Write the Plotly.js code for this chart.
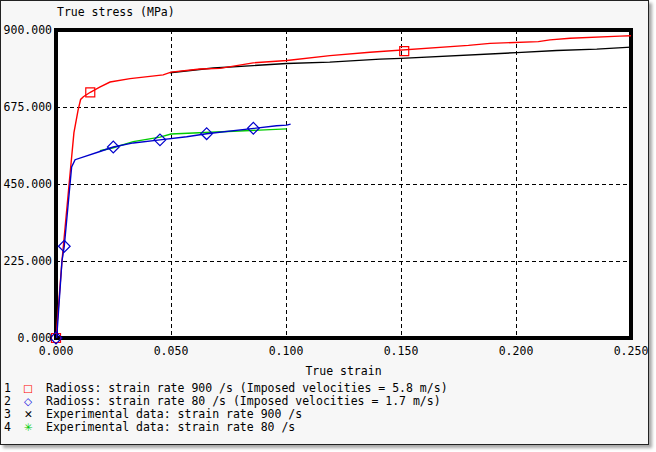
<!DOCTYPE html>
<html><head><meta charset="utf-8">
<script src="https://cdn.plot.ly/plotly-3.0.1.min.js"></script>
<style>
html,body{margin:0;padding:0;background:#ffffff;}
#frame{position:absolute;left:0;top:0;width:647px;height:443px;background:#f7f7f7;border:1px solid #222;box-shadow:3px 3px 3px rgba(0,0,0,0.35);}
#chart{position:absolute;left:0;top:0;width:656px;height:452px;}
</style></head>
<body>
<div id="frame"></div>
<div id="chart"></div>
<script>
// Radioss: strain rate 900 /s
const red_x = [0, 0.0026, 0.0057, 0.0078, 0.0096, 0.0107, 0.0119, 0.0149, 0.019, 0.0235, 0.0322, 0.0466, 0.05, 0.0626, 0.0713, 0.0857, 0.1004, 0.1191, 0.1365, 0.1452, 0.1532, 0.1597, 0.1749, 0.1793, 0.1887, 0.2097, 0.2148, 0.2235, 0.2452, 0.25];
const red_y = [0, 225, 450, 600, 666, 697, 705, 718, 733, 748, 758, 769, 777, 786, 788, 804, 811, 825, 835, 839, 842, 846, 851, 855, 861, 866, 871, 876, 882, 883];
const red_mx = [0, 0.0149, 0.1514];
const red_my = [0, 718, 838];
// Radioss: strain rate 80 /s
const blue_x = [0, 0.0003, 0.0026, 0.0036, 0.0061, 0.0068, 0.0083, 0.0133, 0.0191, 0.0249, 0.0336, 0.0452, 0.0568, 0.0655, 0.0771, 0.0858, 0.0959, 0.1003, 0.102];
const blue_y = [0, 0, 225, 268, 450, 500, 521, 533, 545, 558, 570, 579, 588, 597, 606, 614, 620, 622, 625];
const blue_mx = [0, 0.0036, 0.0249, 0.0452, 0.0655, 0.0858];
const blue_my = [0, 268, 558, 579, 597, 613];
// Experimental data: strain rate 900 /s
const black_x = [0.0495, 0.0597, 0.0684, 0.0857, 0.1003, 0.119, 0.1307, 0.1409, 0.15, 0.167, 0.1829, 0.2003, 0.2177, 0.2351, 0.25];
const black_y = [775, 783, 789, 796, 802, 806, 811, 815, 817, 822, 827, 834, 840, 844, 850];
// Experimental data: strain rate 80 /s
const green_x = [0.0191, 0.0249, 0.0336, 0.0452, 0.05, 0.0568, 0.0655, 0.0858, 0.1003];
const green_y = [547, 556, 574, 587, 596, 598, 600, 608, 611];

const xTicks = [0, 0.05, 0.1, 0.15, 0.2, 0.25];
const yTicks = [0, 225, 450, 675, 900];
const legendLabels = [
  "Radioss: strain rate 900 /s (Imposed velocities = 5.8 m/s)",
  "Radioss: strain rate 80 /s (Imposed velocities = 1.7 m/s)",
  "Experimental data: strain rate 900 /s",
  "Experimental data: strain rate 80 /s"
];
const legendSymbols = ["\u25A1", "\u25C7", "\u2715", "\u2733"];
const legendColors = ["#ff0000", "#0000dd", "#000000", "#00cc00"];

const FONT = "DejaVu Sans Mono";
const traces = [
  {x: black_x, y: black_y, mode: 'lines', line: {color: '#000000', width: 1.4}, showlegend: false},
  {x: green_x, y: green_y, mode: 'lines', line: {color: '#00cc00', width: 1.4}, showlegend: false},
  {x: red_x, y: red_y, mode: 'lines', line: {color: '#ff0000', width: 1.4}, showlegend: false},
  {x: blue_x, y: blue_y, mode: 'lines', line: {color: '#0000cc', width: 1.4}, showlegend: false},
  {x: red_mx, y: red_my, mode: 'markers', marker: {symbol: 'square-open', size: 9, color: '#ff0000', line: {width: 1.2}}, showlegend: false, cliponaxis: false},
  {x: blue_mx, y: blue_my, mode: 'markers', marker: {symbol: 'diamond-open', size: 9, color: '#0000cc', line: {width: 1.2}}, showlegend: false, cliponaxis: false}
];

const annotations = [];
const rowY0 = 388, rowStep = 13;
legendLabels.forEach((t, i) => {
  const yy = 1 - (rowY0 + i * rowStep - 30) / (338 - 30);
  annotations.push({xref: 'paper', yref: 'paper', x: (7 - 56) / 575, y: yy, xanchor: 'center', yanchor: 'middle', showarrow: false, text: String(i + 1), font: {family: FONT, size: 11.5, color: '#000'}});
  annotations.push({xref: 'paper', yref: 'paper', x: (28 - 56) / 575, y: yy, xanchor: 'center', yanchor: 'middle', showarrow: false, text: legendSymbols[i], font: {family: 'DejaVu Sans', size: 10.5, color: legendColors[i]}});
  annotations.push({xref: 'paper', yref: 'paper', x: (44 - 56) / 575, y: yy, xanchor: 'left', yanchor: 'middle', showarrow: false, text: t, font: {family: FONT, size: 11.5, color: '#000'}});
});

const layout = {
  width: 656, height: 452,
  paper_bgcolor: 'rgba(0,0,0,0)', plot_bgcolor: '#ffffff',
  margin: {l: 56, r: 25, t: 30, b: 114},
  font: {family: FONT, size: 11.5, color: '#000'},
  title: {text: 'True stress (MPa)', x: 57 / 656, xanchor: 'left', y: 1 - 12 / 452, yanchor: 'middle', font: {family: FONT, size: 11.5, color: '#000'}},
  xaxis: {range: [0, 0.25], tickvals: xTicks, tickformat: '.3f', showgrid: true, gridcolor: '#000', gridwidth: 1, griddash: '4px,3px', zeroline: false, showline: false, ticks: '', ticklabelstandoff: 4,
    title: {text: 'True strain', standoff: 10, font: {family: FONT, size: 11.5, color: '#000'}}},
  yaxis: {range: [0, 900], tickvals: yTicks, tickformat: '.3f', showgrid: true, gridcolor: '#000', gridwidth: 1, griddash: '4px,3px', zeroline: false, showline: false, ticks: '', ticklabelstandoff: 3},
  shapes: [{type: 'rect', xref: 'paper', yref: 'paper', x0: 0, x1: 1, y0: 0, y1: 1, line: {color: '#000', width: 4}, layer: 'between'}],
  annotations: annotations,
  showlegend: false
};
Plotly.newPlot('chart', traces, layout, {displayModeBar: false, staticPlot: true});
</script>
</body></html>
